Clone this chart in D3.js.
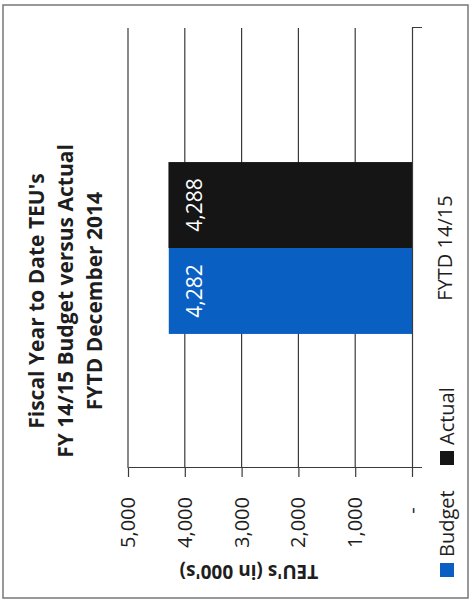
<!DOCTYPE html>
<meta charset="utf-8">
<style>
    body { margin: 0; background: #fff; }
    text { font-family: "Open Sans", sans-serif; fill: #1e1e1e; }
    .grid line { stroke: #3a3a3a; stroke-width: 1.2px; }
    .axis path, .axis line { stroke: #3a3a3a; stroke-width: 1.2px; }
</style>
<body>
    <script src="https://d3js.org/d3.v7.min.js"></script>
    <script>
        var categories = ["FYTD 14/15"];
        var seriesNames = ["Budget", "Actual"];
        var budget = [4282];
        var actual = [4288];
        var tickValues = [0, 1000, 2000, 3000, 4000, 5000];
        var tickLabels = ["-  ", "1,000", "2,000", "3,000", "4,000", "5,000"];
        var titleLines = ["Fiscal Year to Date TEU's", "FY 14/15 Budget versus Actual", "FYTD December 2014"];
        var colors = ["#0a5fc3", "#151515"];

        var width = 474,
            height = 602;

        var svg = d3.select("body").append("svg")
            .attr("width", width)
            .attr("height", height);

        // the page was scanned sideways: draw the chart upright and turn it
        var g = svg.append("g")
            .attr("transform", "translate(0," + height + ") rotate(-90)");

        g.append("rect")
            .attr("x", 4).attr("y", 3)
            .attr("width", 593).attr("height", 465)
            .attr("fill", "none")
            .attr("stroke", "#777")
            .attr("stroke-width", 1.5);

        var y = d3.scaleLinear()
            .domain([0, 5000])
            .range([412, 128]);

        var x0 = d3.scaleBand()
            .domain(categories)
            .range([134, 574])
            .paddingOuter(0.78);

        var x1 = d3.scaleBand()
            .domain(seriesNames)
            .range([0, x0.bandwidth()]);

        var color = d3.scaleOrdinal().domain(seriesNames).range(colors);

        // gridlines
        g.append("g").attr("class", "grid")
            .selectAll("line")
            .data(tickValues.slice(1))
            .enter().append("line")
            .attr("x1", 134).attr("x2", 574)
            .attr("y1", function(d) { return y(d); })
            .attr("y2", function(d) { return y(d); });

        // bars
        var rows = [];
        categories.forEach(function(c, i) {
            rows.push({cat: c, name: "Budget", value: budget[i]});
            rows.push({cat: c, name: "Actual", value: actual[i]});
        });

        g.selectAll("rect.bar")
            .data(rows)
            .enter().append("rect")
            .attr("class", "bar")
            .attr("x", function(d) { return x0(d.cat) + x1(d.name); })
            .attr("width", x1.bandwidth())
            .attr("y", function(d) { return y(d.value); })
            .attr("height", function(d) { return y(0) - y(d.value); })
            .attr("fill", function(d) { return color(d.name); });

        g.selectAll("text.val")
            .data(rows)
            .enter().append("text")
            .attr("class", "val")
            .attr("x", function(d) { return x0(d.cat) + x1(d.name) + x1.bandwidth() / 2; })
            .attr("y", function(d) { return y(d.value) + 26; })
            .attr("dy", "0.35em")
            .attr("text-anchor", "middle")
            .style("font-size", "21px")
            .style("fill", "#fff")
            .text(function(d) { return d3.format(",")(d.value); });

        // value axis
        var yAxis = g.append("g").attr("class", "axis")
            .attr("transform", "translate(134,0)")
            .call(d3.axisLeft(y)
                .tickValues(tickValues)
                .tickFormat(function(d, i) { return tickLabels[i]; })
                .tickSize(9)
                .tickSizeOuter(0)
                .tickPadding(20));
        yAxis.selectAll("text")
            .style("font-size", "20px")
            .style("white-space", "pre")
            .style("fill", "#1e1e1e");

        // category axis
        var xAxis = g.append("g").attr("class", "axis")
            .attr("transform", "translate(0,412)")
            .call(d3.axisBottom(x0).tickSize(0).tickSizeOuter(10));
        xAxis.selectAll("text")
            .attr("y", 33)
            .attr("dy", "0.35em")
            .style("font-size", "20px")
            .style("fill", "#1e1e1e");

        // title
        g.selectAll("text.title")
            .data(titleLines)
            .enter().append("text")
            .attr("class", "title")
            .attr("x", 301)
            .attr("y", function(d, i) { return 37 + i * 29; })
            .attr("dy", "0.35em")
            .attr("text-anchor", "middle")
            .style("font-size", "21px")
            .style("font-weight", "bold")
            .text(function(d) { return d; });

        g.append("text")
            .attr("transform", "translate(30,249) rotate(-90)")
            .attr("dy", "0.35em")
            .attr("text-anchor", "middle")
            .style("font-size", "19px")
            .style("font-weight", "bold")
            .text("TEU's (in 000's)");

        // legend
        var legend = g.selectAll("g.legend")
            .data(seriesNames)
            .enter().append("g")
            .attr("class", "legend")
            .attr("transform", function(d, i) { return "translate(" + (25 + i * 112) + ",447)"; });
        legend.append("rect")
            .attr("y", -7).attr("width", 14).attr("height", 14)
            .attr("fill", function(d) { return color(d); });
        legend.append("text")
            .attr("x", 20)
            .attr("dy", "0.35em")
            .style("font-size", "20px")
            .text(function(d) { return d; });
    </script>
</body>
</html>
